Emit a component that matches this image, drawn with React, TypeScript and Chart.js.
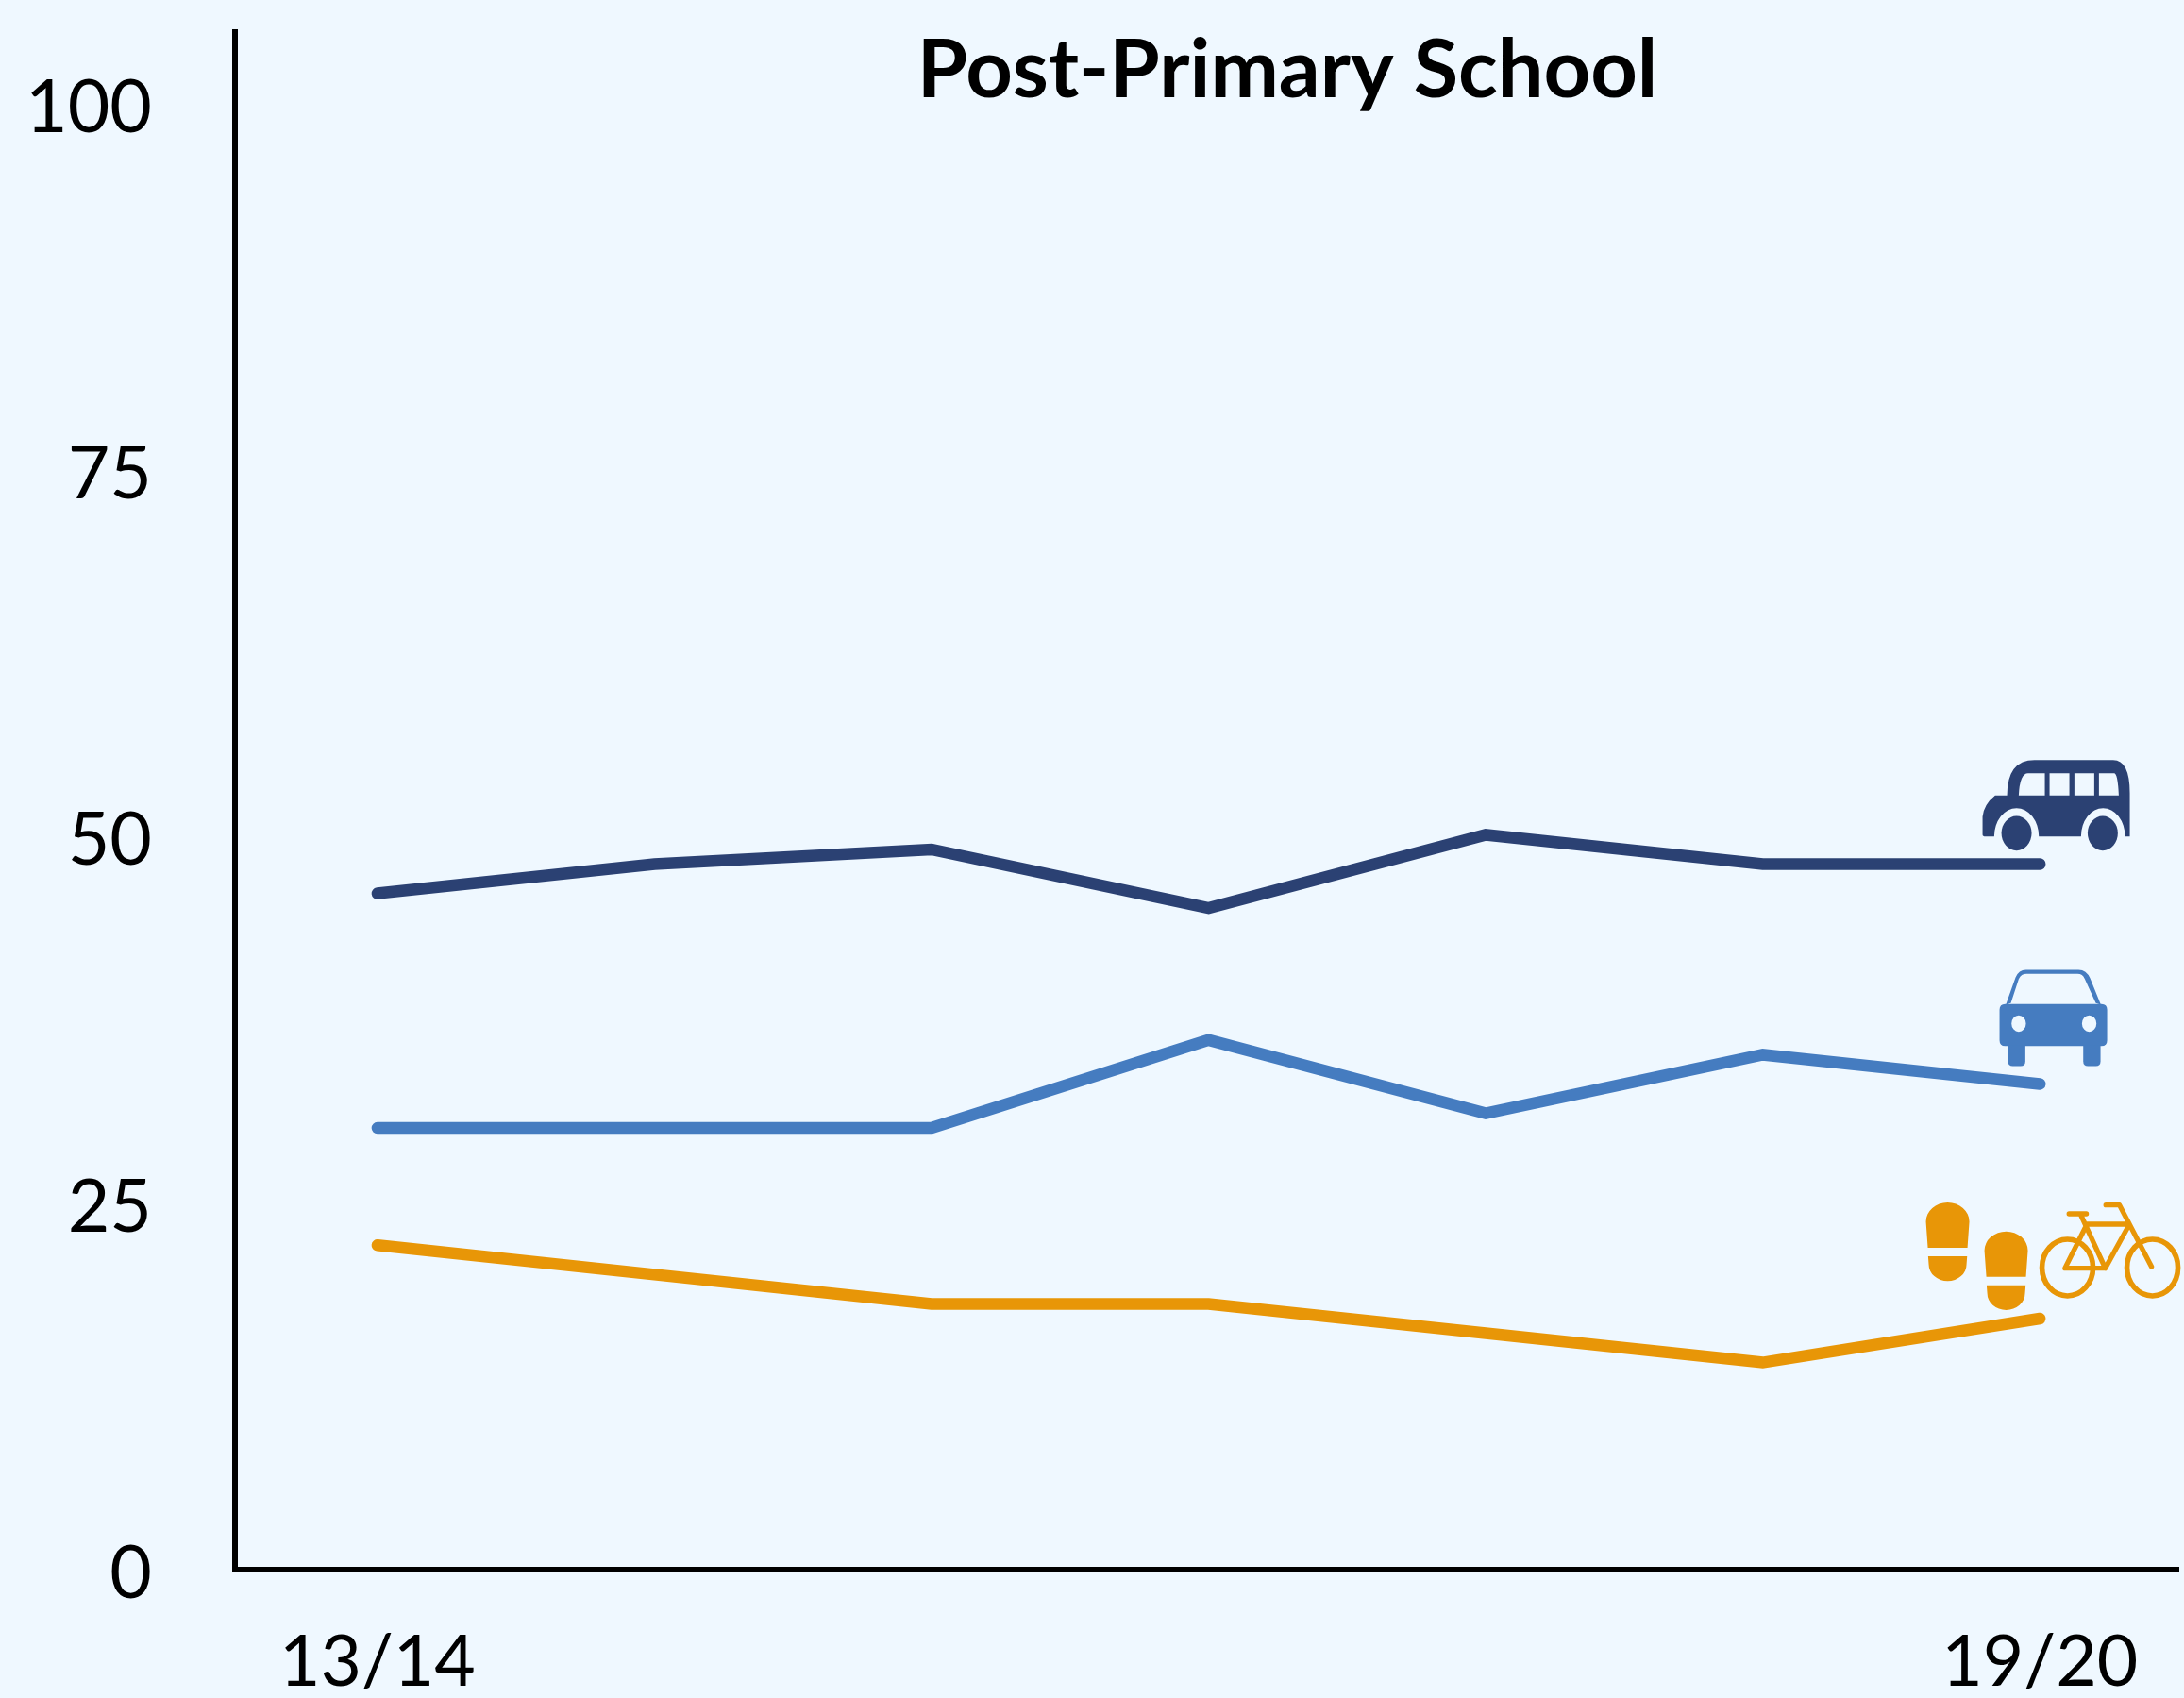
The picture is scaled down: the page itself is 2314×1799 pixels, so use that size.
import React, { useEffect, useRef } from "react";
import { Chart, registerables } from "chart.js";

Chart.register(...registerables);

const titleText = "Post-Primary School";
const seasons = ["13/14", "14/15", "15/16", "16/17", "17/18", "18/19", "19/20"];
const shownSeasons = ["13/14", "19/20"];
const yTicks = [0, 25, 50, 75, 100];
const busOrCar = [46, 48, 49, 45, 50, 48, 48];
const carOnly = [30, 30, 30, 36, 31, 35, 33];
const walkOrCycle = [22, 20, 18, 18, 16, 14, 17];

const BG = "#EFF8FF";
const NAVY = "#2B4173";
const BLUE = "#457CC0";
const ORANGE = "#E89607";

function drawBus(ctx: CanvasRenderingContext2D) {
  const p = new Path2D(
    "M360 342 L360 285 Q365 245 400 218 L438 218 Q438 105 525 105 L775 105 Q828 105 828 210 L828 348 L813 348 A70 90 0 0 0 673 348 L539 348 A71 90 0 0 0 397 348 L370 348 Q360 348 360 342 Z " +
      "M475 218 Q478 147 505 147 L558 147 L558 218 Z M573 147 L636 147 L636 218 L573 218 Z M652 147 L715 147 L715 218 L652 218 Z M730 147 L778 147 Q790 147 793 218 L730 218 Z"
  );
  ctx.fillStyle = NAVY;
  ctx.fill(p, "evenodd");
  ctx.beginPath();
  ctx.ellipse(468, 338, 48, 55, 0, 0, Math.PI * 2);
  ctx.fill();
  ctx.beginPath();
  ctx.ellipse(742, 338, 48, 55, 0, 0, Math.PI * 2);
  ctx.fill();
}

function drawCar(ctx: CanvasRenderingContext2D) {
  ctx.fillStyle = BLUE;
  const roof = new Path2D(
    "M434 882 L465 795 Q475 771 498 771 L665 771 Q690 771 702 798 L736 882 L720 877 L685 800 Q678 784 662 784 L500 784 Q483 784 475 800 L450 877 Z"
  );
  ctx.fill(roof);
  const body = new Path2D(
    "M432 880 L738 880 Q756 880 756 898 L756 995 Q756 1013 738 1013 L432 1013 Q414 1013 414 995 L414 898 Q414 880 432 880 Z " +
      "M498 942 A23 26 0 1 0 452 942 A23 26 0 1 0 498 942 Z M722 942 A23 26 0 1 0 676 942 A23 26 0 1 0 722 942 Z"
  );
  ctx.fill(body, "evenodd");
  ctx.fill(new Path2D("M441 1010 L496 1010 L496 1062 Q496 1077 481 1077 L456 1077 Q441 1077 441 1062 Z"));
  ctx.fill(new Path2D("M680 1010 L735 1010 L735 1062 Q735 1077 720 1077 L695 1077 Q680 1077 680 1062 Z"));
}

function drawWalkCycle(ctx: CanvasRenderingContext2D) {
  ctx.fillStyle = ORANGE;
  ctx.strokeStyle = ORANGE;
  const foot = new Path2D(
    "M186 243 L180 160 A69 61 0 0 1 318 160 L312 243 Z M187 270 L311 270 L309 296 A60 53 0 0 1 189 296 Z"
  );
  ctx.fill(foot);
  ctx.save();
  ctx.translate(186, 92);
  ctx.fill(foot);
  ctx.restore();
  ctx.lineWidth = 17;
  ctx.lineCap = "round";
  ctx.lineJoin = "round";
  ctx.beginPath();
  ctx.ellipse(630, 306, 81, 90, 0, 0, Math.PI * 2);
  ctx.stroke();
  ctx.beginPath();
  ctx.ellipse(900, 306, 81, 90, 0, 0, Math.PI * 2);
  ctx.stroke();
  ctx.lineWidth = 16;
  ctx.stroke(
    new Path2D(
      "M635 135 L690 135 M672 138 L750 308 L622 308 L690 172 M690 168 L820 168 M750 308 L825 172 M752 107 L795 107 L897 303"
    )
  );
}

const iconPlugin = {
  id: "modeIcons",
  afterLayout(chart: any) {
    const t = chart.titleBlock;
    if (t) {
      t.left = 414;
      t.right = 2314;
    }
  },
  afterDatasetsDraw(chart: any) {
    const ctx = chart.ctx as CanvasRenderingContext2D;
    const icons: [number, number, number, (c: CanvasRenderingContext2D) => void][] = [
      [0, 542, 436, drawBus],
      [1, 542, 1134, drawCar],
      [2, 542, 468, drawWalkCycle],
    ];
    for (const [i, ax, ay, fn] of icons) {
      const pts = chart.getDatasetMeta(i).data;
      const pt = pts[pts.length - 1];
      ctx.save();
      ctx.translate(pt.x, pt.y);
      ctx.scale(1 / 3, 1 / 3);
      ctx.translate(-ax, -ay);
      fn(ctx);
      ctx.restore();
    }
  },
};

function toPoints(values: number[]) {
  return values.map((y, x) => ({ x, y }));
}

function lineSet(label: string, values: number[], color: string) {
  return {
    label,
    data: toPoints(values),
    borderColor: color,
    backgroundColor: color,
    borderWidth: 12.5,
    borderCapStyle: "round" as const,
    borderJoinStyle: "miter" as const,
    pointRadius: 0,
    tension: 0,
    clip: false as const,
  };
}

export default function App() {
  const ref = useRef<HTMLCanvasElement>(null);
  useEffect(() => {
    document.documentElement.style.background = BG;
    document.body.style.background = BG;
    const chart = new Chart(ref.current!, {
      type: "line",
      data: {
        datasets: [
          lineSet("Bus", busOrCar, NAVY),
          lineSet("Car", carOnly, BLUE),
          lineSet("Walk / Cycle", walkOrCycle, ORANGE),
        ],
      },
      plugins: [iconPlugin],
      options: {
        animation: false,
        responsive: false,
        layout: { padding: { left: 0, top: 0, right: 6, bottom: 0 } },
        plugins: {
          legend: { display: false },
          tooltip: { enabled: false },
          title: {
            display: true,
            text: titleText,
            color: "#000",
            font: { family: "Lato", size: 86.5, weight: "bold", lineHeight: 1 },
            padding: { top: 32, bottom: -84.5 },
          },
        },
        scales: {
          x: {
            type: "linear",
            min: -0.514,
            max: 6.5,
            afterFit(s: any) {
              s.height = 136;
            },
            afterBuildTicks(s: any) {
              s.ticks = seasons.map((_, i) => ({ value: i }));
            },
            grid: { display: false, drawTicks: true, tickLength: 61 },
            border: { display: true, color: "#000", width: 6 },
            ticks: {
              autoSkip: false,
              maxRotation: 0,
              padding: 0,
              color: "#000",
              font: { family: "Lato", size: 75, lineHeight: 1 },
              callback: (v: any) => (shownSeasons.includes(seasons[v]) ? seasons[v] : ""),
            },
          },
          y: {
            type: "linear",
            min: -0.13,
            max: 104.76,
            afterFit(s: any) {
              s.width = 249;
            },
            afterBuildTicks(s: any) {
              s.ticks = yTicks.map((value) => ({ value }));
            },
            grid: { display: false, drawTicks: true, tickLength: 88 },
            border: { display: true, color: "#000", width: 6 },
            ticks: {
              padding: 0,
              labelOffset: 7,
              color: "#000",
              font: { family: "Lato", size: 77, lineHeight: 0.5 },
            },
          },
        },
      },
    } as any);
    return () => chart.destroy();
  }, []);
  return (
    <div style={{ position: "absolute", left: 0, top: 0, width: 2314, height: 1799, background: BG }}>
      <canvas ref={ref} width={2314} height={1799} style={{ display: "block", width: 2314, height: 1799 }} />
    </div>
  );
}
